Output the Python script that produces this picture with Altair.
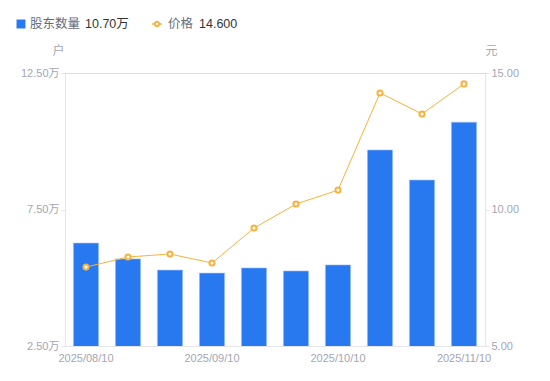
import altair as alt
import pandas as pd

dates = ["2025/08/10", "2025/08/20", "2025/08/31", "2025/09/10", "2025/09/20",
         "2025/09/30", "2025/10/10", "2025/10/20", "2025/10/31", "2025/11/10"]
holders = [6.27, 5.69, 5.28, 5.17, 5.36, 5.25, 5.47, 9.68, 8.58, 10.70]  # 万户
prices = [7.89, 8.26, 8.37, 8.04, 9.32, 10.20, 10.71, 14.27, 13.50, 14.60]
shown_dates = ["2025/08/10", "2025/09/10", "2025/10/10", "2025/11/10"]

df = pd.DataFrame({"date": dates, "holders": holders, "price": prices})

FONT = "Liberation Sans, Noto Sans CJK SC"
GRAY = "#A3A6B4"
AXIS = "#E3E5EA"
BLUE = "#2878F0"
ORANGE = "#F7B23B"

x = alt.X("date:N", sort=dates,
          scale=alt.Scale(paddingInner=0.4, paddingOuter=0.2),
          axis=alt.Axis(title=None, values=shown_dates, labelAngle=0, ticks=False,
                        labelColor=GRAY, labelFontSize=11, labelFont=FONT,
                        domainColor=AXIS, labelPadding=6))

bars = alt.Chart(df).mark_bar(color=BLUE, clip=True, stroke="#9EC3FA", strokeWidth=0.6).encode(
    x=x,
    y=alt.Y("holders:Q", scale=alt.Scale(domain=[2.5, 12.5], zero=False, nice=False),
            axis=alt.Axis(values=[2.5, 7.5, 12.5], labelExpr="format(datum.value, '.2f') + '万'",
                          grid=False, title="户", titleAngle=0, titleX=-7, titleY=-16,
                          titleColor=GRAY, titleFontWeight="normal", titleFontSize=12,
                          titleFont=FONT, labelColor=GRAY, labelFontSize=11, labelFont=FONT,
                          domainColor=AXIS, tickColor=AXIS, tickSize=4, labelPadding=2)),
)

price_y = alt.Y("price:Q", scale=alt.Scale(domain=[5, 15], zero=False, nice=False),
                axis=alt.Axis(orient="right", values=[5, 10, 15], format=".2f",
                              grid=False, title="元", titleAngle=0, titleX=6, titleY=-16,
                              titleColor=GRAY, titleFontWeight="normal", titleFontSize=12,
                              titleFont=FONT, labelColor=GRAY, labelFontSize=11, labelFont=FONT,
                              domainColor=AXIS, tickColor=AXIS, tickSize=4, labelPadding=2))

line = alt.Chart(df).mark_line(color=ORANGE, strokeWidth=1).encode(x=x, y=price_y)
pts = alt.Chart(df).mark_point(shape="circle", filled=True, fill="white", stroke=ORANGE,
                               strokeWidth=2, size=26, opacity=1).encode(x=x, y=price_y)

price_layer = alt.layer(line, pts)

# Legend
leg = pd.DataFrame({"h": [holders[-1]], "p": [prices[-1]]})
base = alt.Chart(leg)
leg_sq = base.mark_square(color=BLUE, size=80, opacity=1, cornerRadius=2).encode(
    x=alt.value(-44), y=alt.value(-49))
leg_t1 = base.mark_text(align="left", baseline="middle", font=FONT, fontSize=12.5,
                        color="#666B7A").encode(x=alt.value(-35), y=alt.value(-49),
                                                text=alt.value("股东数量"))
leg_v1 = base.transform_calculate(lbl="format(datum.h, '.2f') + '万'").mark_text(
    align="left", baseline="middle", font=FONT, fontSize=12.5, color="#333333").encode(
    x=alt.value(20), y=alt.value(-49), text="lbl:N")
leg_ln = base.mark_rule(color=ORANGE, strokeWidth=1.5).encode(
    x=alt.value(87), x2=alt.value(97), y=alt.value(-49))
leg_pt = base.mark_point(shape="circle", filled=True, fill="white", stroke=ORANGE,
                         strokeWidth=1.8, size=20, opacity=1).encode(x=alt.value(92), y=alt.value(-49))
leg_t2 = base.mark_text(align="left", baseline="middle", font=FONT, fontSize=12.5,
                        color="#666B7A").encode(x=alt.value(103), y=alt.value(-49),
                                                text=alt.value("价格"))
leg_v2 = base.mark_text(align="left", baseline="middle", font=FONT, fontSize=12.5,
                        color="#333333").encode(x=alt.value(134), y=alt.value(-49),
                                                text=alt.Text("p:Q", format=".3f"))

legend = alt.layer(leg_sq, leg_t1, leg_v1, leg_ln, leg_pt, leg_t2, leg_v2)

chart = alt.layer(bars, price_layer, legend).resolve_scale(y="independent").properties(
    width=420, height=273,
    autosize=alt.AutoSizeParams(type="none"),
    padding={"left": 57, "top": 65, "right": 57, "bottom": 27},
).configure_view(stroke=None).configure(background="white")

chart.save("out.html", embed_options={"renderer": "svg", "actions": False})
